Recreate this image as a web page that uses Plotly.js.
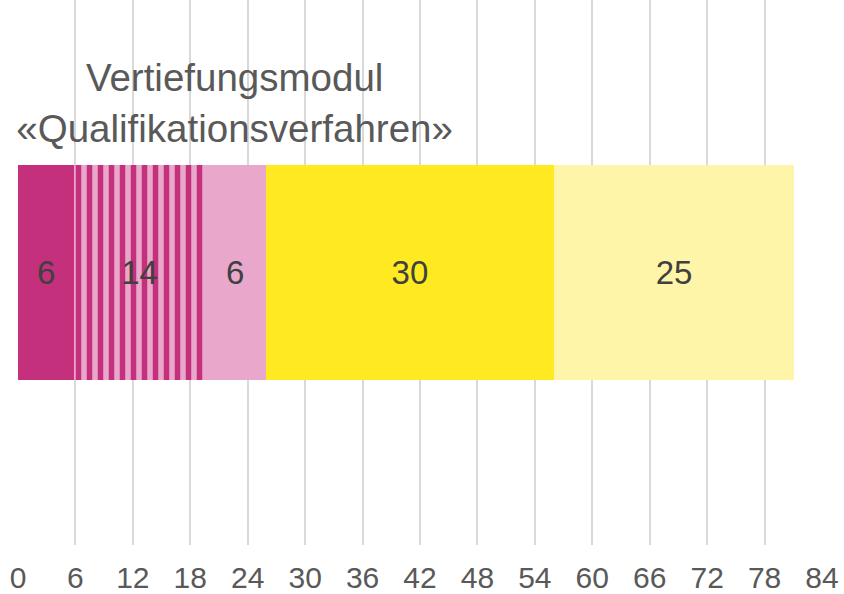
<!DOCTYPE html>
<html>
<head>
<meta charset="utf-8">
<script src="https://cdn.plot.ly/plotly-3.0.1.min.js"></script>
<style>html,body{margin:0;padding:0;background:#fff;}#chart{width:844px;height:594px;}</style>
</head>
<body>
<div id="chart"></div>
<script>
const category = ['Vertiefungsmodul «Qualifikationsverfahren»'];
const seriesNames = ['Teil 1', 'Teil 2', 'Teil 3', 'Teil 4', 'Teil 5'];
const seriesValues = [5.9, 13.6, 6.4, 30.1, 25.1];
const seriesColors = ['#C4307C', '#E9A8CB', '#E9A8CB', '#FFEA22', '#FFF5A8'];
const stripedSeries = [false, true, false, false, false];
const tickValues = [0, 6, 12, 18, 24, 30, 36, 42, 48, 54, 60, 66, 72, 78, 84];

const traces = seriesNames.map((name, i) => {
  const marker = { color: seriesColors[i], line: { width: 0 } };
  if (stripedSeries[i]) {
    marker.pattern = { shape: '|', fgcolor: '#C4307C', bgcolor: '#E9A8CB', size: 11, solidity: 0.5, fillmode: 'replace' };
  }
  return {
    type: 'bar',
    orientation: 'h',
    name: name,
    y: [0],
    x: [seriesValues[i]],
    width: 0.393,
    marker: marker,
    texttemplate: '%{x:.0f}',
    textposition: 'inside',
    insidetextanchor: 'middle',
    textangle: 0,
    constraintext: 'none',
    textfont: { family: 'Liberation Sans, Arial, sans-serif', size: 33, color: '#404040' },
    hoverinfo: 'skip'
  };
});

const layout = {
  width: 844,
  height: 594,
  barmode: 'stack',
  showlegend: false,
  paper_bgcolor: '#ffffff',
  plot_bgcolor: '#ffffff',
  margin: { l: 18, r: 22, t: 0, b: 49 },
  title: {
    text: 'Vertiefungsmodul<br>«Qualifikationsverfahren»',
    font: { family: 'Liberation Sans, Arial, sans-serif', size: 38.5, color: '#595959' },
    xref: 'container', yref: 'container',
    x: 0.278, xanchor: 'center',
    y: 0.846, yanchor: 'middle'
  },
  xaxis: {
    range: [0, 84],
    tickvals: tickValues,
    ticktext: tickValues.map(String),
    showgrid: true,
    gridcolor: '#D9D9D9',
    gridwidth: 2,
    zeroline: false,
    showline: false,
    ticks: '',
    ticklabelstandoff: 12,
    tickfont: { family: 'Liberation Sans, Arial, sans-serif', size: 30, color: '#595959' },
    fixedrange: true
  },
  yaxis: {
    range: [-0.5, 0.5],
    showticklabels: false,
    showgrid: false,
    zeroline: false,
    showline: false,
    ticks: '',
    fixedrange: true
  },
  hovermode: false
};

Plotly.newPlot('chart', traces, layout, { displayModeBar: false, staticPlot: true });
</script>
</body>
</html>
